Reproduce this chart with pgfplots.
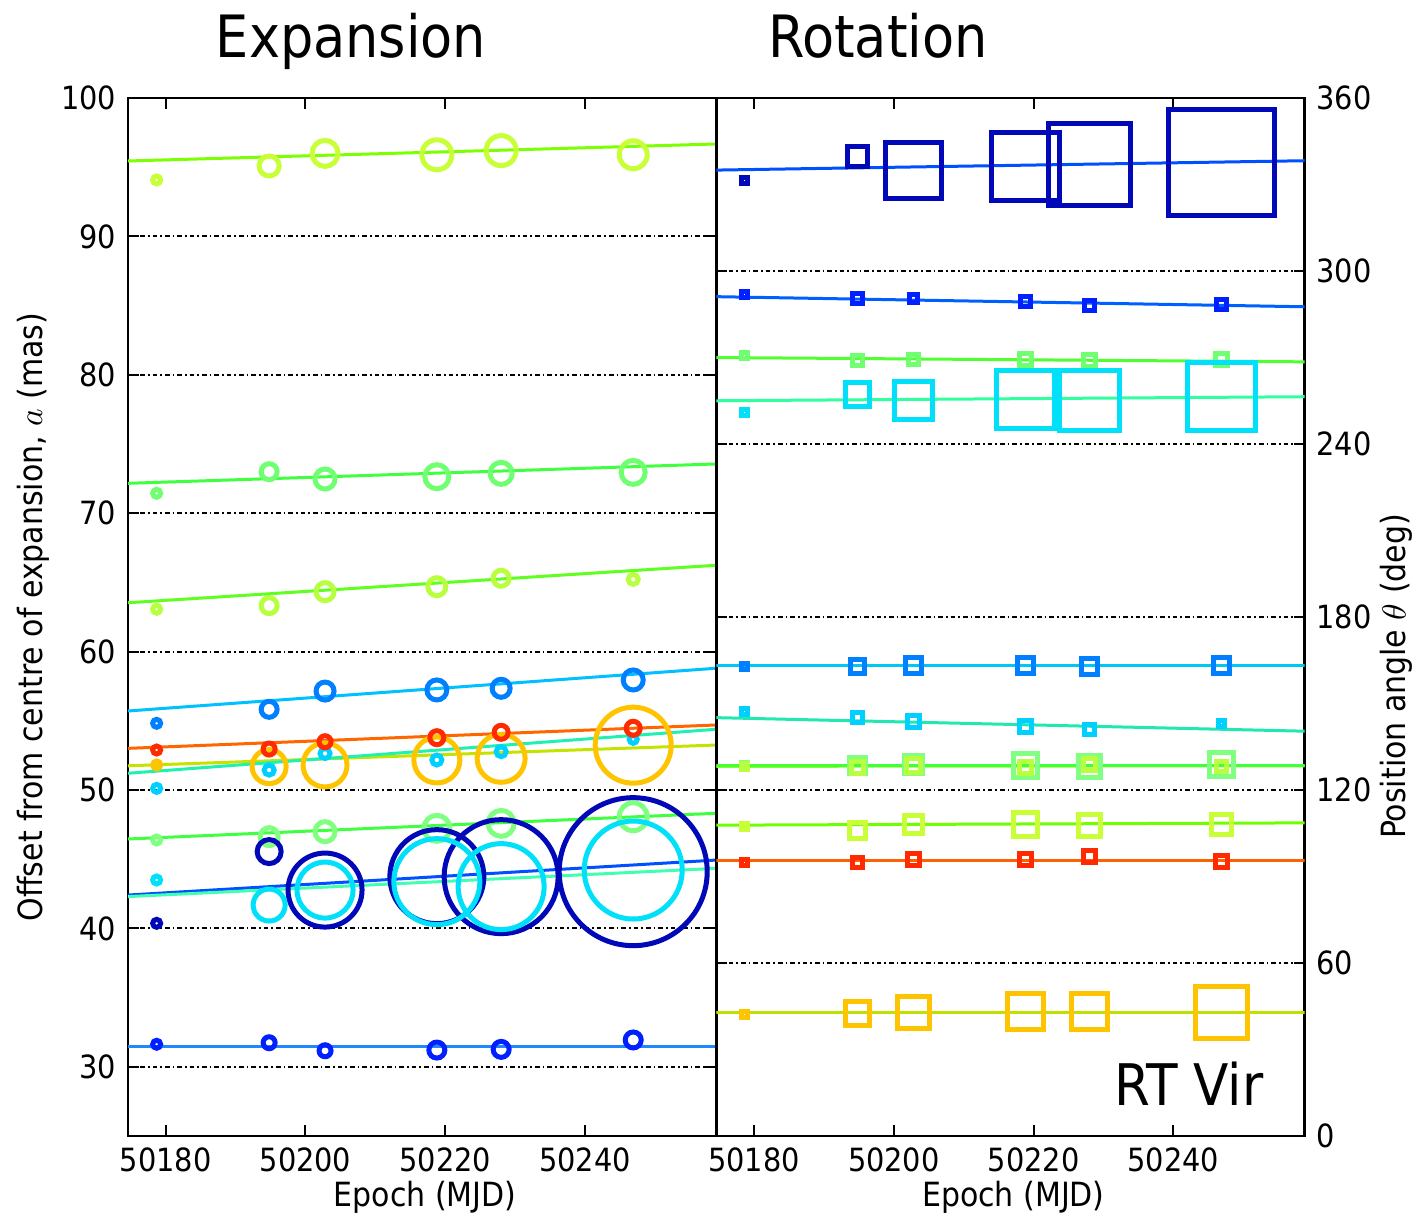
\documentclass[border=0pt]{standalone}
\usepackage{fontspec}
\setmainfont{DejaVu Sans Condensed}
\usepackage{pgfplots}
\usepackage{pgfplotstable}
\pgfplotsset{compat=1.18}

% marker colours (one per maser feature)
\definecolor{m1}{HTML}{C8FF37}
\definecolor{m2}{HTML}{70FF70}
\definecolor{m3}{HTML}{B8FF40}
\definecolor{m4}{HTML}{0080FF}
\definecolor{m5}{HTML}{FF2A00}
\definecolor{m6}{HTML}{FFC400}
\definecolor{m7}{HTML}{00D0FF}
\definecolor{m8}{HTML}{80FF80}
\definecolor{m9}{HTML}{0008B8}
\definecolor{m10}{HTML}{00E0F8}
\definecolor{m11}{HTML}{0020FF}
% fitted-line colours
\definecolor{l1}{HTML}{7CFF00}
\definecolor{l2}{HTML}{40FF40}
\definecolor{l3}{HTML}{60FF20}
\definecolor{l4}{HTML}{00C0FF}
\definecolor{l5}{HTML}{FF6600}
\definecolor{l6}{HTML}{C4E400}
\definecolor{l7}{HTML}{20F0B0}
\definecolor{l8}{HTML}{40FF40}
\definecolor{l9}{HTML}{0050FF}
\definecolor{l10}{HTML}{40FFB0}
\definecolor{l11}{HTML}{2088FF}
\definecolor{r1}{HTML}{70FF00}
\definecolor{r2}{HTML}{50FF30}
\definecolor{r3}{HTML}{90FF10}
\definecolor{r4}{HTML}{00C8F0}
\definecolor{r5}{HTML}{FF6000}
\definecolor{r6}{HTML}{C0E000}
\definecolor{r7}{HTML}{20E8B0}
\definecolor{r8}{HTML}{40FF40}
\definecolor{r9}{HTML}{0050FF}
\definecolor{r10}{HTML}{30FFA0}
\definecolor{r11}{HTML}{0060FF}

% offsets a (mas) and symbol sizes (s, px) per feature
\pgfplotstableread{
x       a1    s1 a2    s2 a3    s3 a4    s4 a5    s5 a6    s6 a7    s7 a8    s8 a9    s9 a10   s10 a11   s11
50178.7 94.08 4  71.44 4  63.06 4  54.82 4  52.89 4  51.81 4  50.12 4  46.39 4  40.37 4  43.50 4   31.63 4
50194.8 95.09 10 73.00 8  63.32 8  55.83 8  52.96 6  51.69 17 51.44 5  46.63 9  45.55 12 41.69 16  31.74 6
50202.8 96.00 13 72.47 10 64.33 9  57.15 9  53.49 6  51.81 22 52.64 5  46.99 10 42.77 37 42.77 28  31.16 6
50218.8 95.90 15 72.64 12 64.69 9  57.23 10 53.78 7  52.17 23 52.17 5  47.23 13 43.74 47 43.38 43  31.21 8
50228.0 96.20 15 72.88 11 65.30 8  57.35 9  54.17 7  52.29 24 52.77 5  47.59 13 43.74 57 43.02 43  31.26 8
50246.9 95.90 14 72.95 12 65.22 5  57.95 10 54.46 7  53.24 38 53.66 4  48.07 14 44.10 74 44.22 49  31.94 8
}\expansion

% position angles theta (deg) and symbol sizes per feature
\pgfplotstableread{
x       t1    s1 t2     s2 t3    s3 t4     s4 t5   s5 t6    s6 t7    s7 t8    s8 t9    s9 t10    s10 t11    s11
50178.7 107.5 3  270.86 3  128.2 3  162.75 3  94.9 3  42.27 3  147.1 3  128.6 3  331.4 3  250.85 3   291.7  3
50194.8 106.1 8  269.1  5  127.8 6  163.0  7  94.9 5  42.5  12 145.1 5  128.6 8  339.6 10 257.2  12  290.5  5
50202.8 108.1 9  269.4  5  128.6 7  163.3  8  95.9 6  42.9  16 143.7 6  128.9 9  334.7 28 255.2  19  290.5  4
50218.8 108.1 12 269.4  6  127.9 6  163.3  8  95.9 6  43.1  18 142.2 6  128.6 12 336.4 34 255.5  29  289.35 5
50228.0 107.6 11 268.9  6  128.9 6  162.75 8  96.8 6  43.1  18 141.1 5  128.0 11 337.1 41 255.0  30  288.2  5
50246.9 108.1 10 269.4  6  128.2 5  163.3  8  95.1 6  42.74 26 143.1 3  128.9 12 337.7 53 256.6  34  288.5  5
}\rotation

\pgfplotsset{
  panel/.style={
    scale only axis, width=176.5pt, height=311.4pt,
    xmin=50174.6, xmax=50258.8,
    xtick={50180,50200,50220,50240},
    scaled x ticks=false,
    xticklabel={\pgfmathprintnumber[fixed,precision=0,1000 sep={}]{\tick}},
    axis line style={line width=0.8pt},
    tick style={black, line width=0.6pt},
    major tick length=3.3pt,
    tick align=inside,
    ymajorgrids,
    grid style={black, line width=0.6pt, dash pattern=on 1.4pt off 0.9pt on 0.5pt off 0.9pt},
    /pgf/number format/1000 sep={},
    /pgf/number format/assume math mode=true,
    tick label style={font=\fontsize{9.6}{11}\selectfont},
    label style={font=\fontsize{10}{12}\selectfont},
    every axis x label/.style={at={(axis description cs:0.505,-0.0588)}, anchor=center},
  },
  bubble/.style n args={3}{scatter, only marks, mark=#1, line width=1.5pt,
    scatter/use mapped color={draw=#2, fill=none},
    visualization depends on={\thisrow{#3} \as \rad},
    scatter/@pre marker code/.append style={/tikz/mark size=0.3*\rad}},
  trend/.style={draw=#1, line width=0.9pt, no markers},
}

\begin{document}
\begin{tikzpicture}
% ---- Expansion ----
\begin{axis}[panel, at={(0,0)}, anchor=south west,
  ymin=25, ymax=100, ytick={30,40,...,100},
  xlabel={Epoch (MJD)},
  ylabel={Offset from centre of expansion, $a$ (mas)},
  every axis y label/.style={at={(axis description cs:-0.1616,0.5)}, rotate=90, anchor=center},
]
\addplot[trend=l1]  coordinates {(50174.6,95.45) (50258.8,96.68)};
\addplot[trend=l2]  coordinates {(50174.6,72.16) (50258.8,73.56)};
\addplot[trend=l3]  coordinates {(50174.6,63.53) (50258.8,66.24)};
\addplot[trend=l4]  coordinates {(50174.6,55.71) (50258.8,58.80)};
\addplot[trend=l5]  coordinates {(50174.6,53.01) (50258.8,54.70)};
\addplot[trend=l6]  coordinates {(50174.6,51.75) (50258.8,53.25)};
\addplot[trend=l7]  coordinates {(50174.6,51.21) (50258.8,54.39)};
\addplot[trend=l8]  coordinates {(50174.6,46.46) (50258.8,48.32)};
\addplot[trend=l9]  coordinates {(50174.6,42.41) (50258.8,44.94)};
\addplot[trend=l10] coordinates {(50174.6,42.30) (50258.8,44.34)};
\addplot[trend=l11] coordinates {(50174.6,31.46) (50258.8,31.46)};
\addplot[bubble={o}{m1}{s1}]   table[x=x, y=a1]  {\expansion};
\addplot[bubble={o}{m2}{s2}]   table[x=x, y=a2]  {\expansion};
\addplot[bubble={o}{m3}{s3}]   table[x=x, y=a3]  {\expansion};
\addplot[bubble={o}{m4}{s4}]   table[x=x, y=a4]  {\expansion};
\addplot[bubble={o}{m6}{s6}]   table[x=x, y=a6]  {\expansion};
\addplot[bubble={o}{m7}{s7}]   table[x=x, y=a7]  {\expansion};
\addplot[bubble={o}{m5}{s5}]   table[x=x, y=a5]  {\expansion};
\addplot[bubble={o}{m8}{s8}]   table[x=x, y=a8]  {\expansion};
\addplot[bubble={o}{m9}{s9}]   table[x=x, y=a9]  {\expansion};
\addplot[bubble={o}{m10}{s10}] table[x=x, y=a10] {\expansion};
\addplot[bubble={o}{m11}{s11}] table[x=x, y=a11] {\expansion};
\end{axis}

% ---- Rotation ----
\begin{axis}[panel, at={(176.5pt,0)}, anchor=south west,
  ymin=0, ymax=360, ytick={0,60,...,360},
  yticklabel pos=right, ytick pos=both,
  xlabel={Epoch (MJD)},
  ylabel={Position angle $\theta$ (deg)},
  every axis y label/.style={at={(axis description cs:1.156,0.4427)}, rotate=90, anchor=center},
]
\addplot[trend=r1]  coordinates {(50174.6,107.8) (50258.8,108.6)};
\addplot[trend=r2]  coordinates {(50174.6,270.0) (50258.8,268.5)};
\addplot[trend=r3]  coordinates {(50174.6,128.2) (50258.8,128.4)};
\addplot[trend=r4]  coordinates {(50174.6,163.1) (50258.8,163.1)};
\addplot[trend=r5]  coordinates {(50174.6,95.7) (50258.8,95.7)};
\addplot[trend=r6]  coordinates {(50174.6,42.8) (50258.8,42.8)};
\addplot[trend=r7]  coordinates {(50174.6,145.1) (50258.8,140.4)};
\addplot[trend=r8]  coordinates {(50174.6,128.6) (50258.8,128.6)};
\addplot[trend=r9]  coordinates {(50174.6,335.0) (50258.8,338.25)};
\addplot[trend=r10] coordinates {(50174.6,255.0) (50258.8,256.4)};
\addplot[trend=r11] coordinates {(50174.6,291.1) (50258.8,287.6)};
\addplot[bubble={square}{m1}{s1}]   table[x=x, y=t1]  {\rotation};
\addplot[bubble={square}{m2}{s2}]   table[x=x, y=t2]  {\rotation};
\addplot[bubble={square}{m8}{s8}]   table[x=x, y=t8]  {\rotation};
\addplot[bubble={square}{m3}{s3}]   table[x=x, y=t3]  {\rotation};
\addplot[bubble={square}{m4}{s4}]   table[x=x, y=t4]  {\rotation};
\addplot[bubble={square}{m5}{s5}]   table[x=x, y=t5]  {\rotation};
\addplot[bubble={square}{m6}{s6}]   table[x=x, y=t6]  {\rotation};
\addplot[bubble={square}{m7}{s7}]   table[x=x, y=t7]  {\rotation};
\addplot[bubble={square}{m9}{s9}]   table[x=x, y=t9]  {\rotation};
\addplot[bubble={square}{m10}{s10}] table[x=x, y=t10] {\rotation};
\addplot[bubble={square}{m11}{s11}] table[x=x, y=t11] {\rotation};
\end{axis}

\node[anchor=base, font=\fontsize{17.5}{20}\selectfont] at (66.9pt,323.4pt) {Expansion};
\node[anchor=base, font=\fontsize{17.5}{20}\selectfont] at (225pt,323.4pt) {Rotation};
\node[anchor=base, font=\fontsize{17.2}{20}\selectfont] at (318.3pt,9.3pt) {RT Vir};

\pgfresetboundingbox
\useasboundingbox (-38.4pt,-24.3pt) rectangle (387.3pt,340.8pt);
\end{tikzpicture}
\end{document}
